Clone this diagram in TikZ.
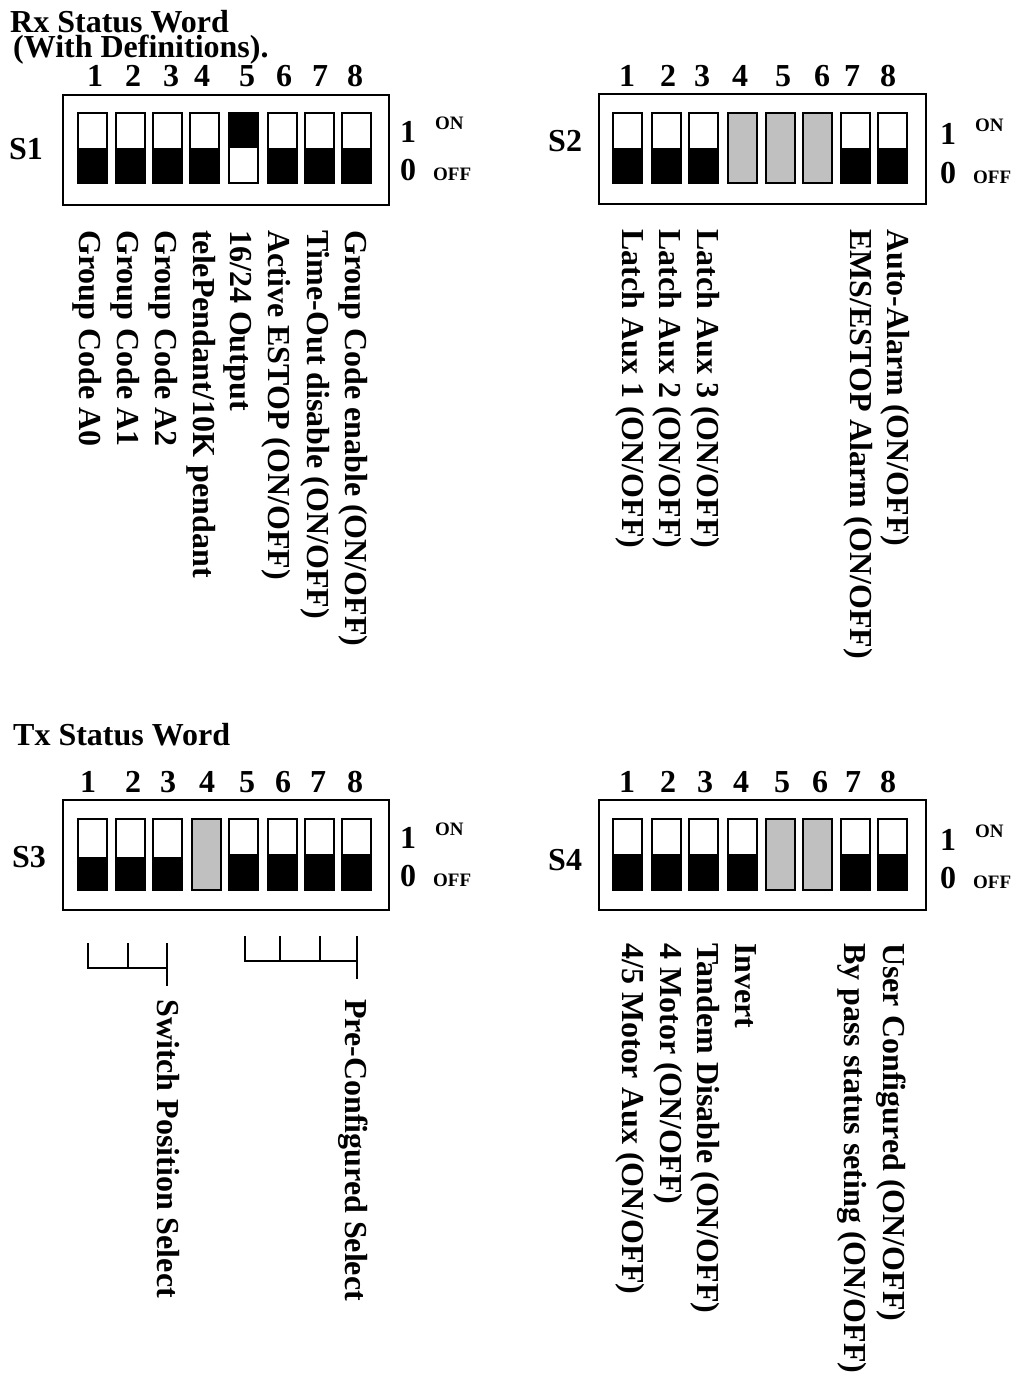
\documentclass[tikz,border=0pt]{standalone}
\usepackage{fontspec}
\setmainfont{Liberation Serif}
\definecolor{swgray}{RGB}{192,192,192}
\newcommand{\dipOff}[4]{\fill[black] (#1,#3) rectangle (#1+29,#4); \draw[swb] (#1,#2) rectangle (#1+29,#4);}
\newcommand{\dipOn}[4]{\fill[black] (#1,#2) rectangle (#1+29,#3); \draw[swb] (#1,#2) rectangle (#1+29,#4);}
\newcommand{\dipGray}[4]{\draw[swb, fill=swgray] (#1,#2) rectangle (#1+29,#4);}
\begin{document}
\begin{tikzpicture}[x=1pt,y=-1pt,
  txt/.style={font=\fontsize{32}{32}\selectfont\bfseries, inner sep=0pt},
  smalltxt/.style={font=\fontsize{19}{19}\selectfont\bfseries, inner sep=0pt},
  lbl/.style={txt, rotate=-90, anchor=base west},
  num/.style={txt, anchor=base},
  frame/.style={draw, line width=1.6pt, inner sep=0pt, anchor=north west},
  swb/.style={draw, line width=1.6pt},
  brk/.style={draw, line width=1.6pt}]
\useasboundingbox[fill=white] (0,0) rectangle (1021,1383);

% ---------- Titles ----------
\node[txt, align=left, anchor=north west] (rxtitle) at (10,10)
  {Rx Status Word\\[-7pt]\hspace*{3pt}(With Definitions).};
\node[txt, anchor=base west] (txtitle) at (13,745) {Tx Status Word};

% ---------- S1 ----------
\node[frame, minimum width=326pt, minimum height=110pt] (box1) at (62,94) {};
\node[txt, anchor=base west] (S1) at (9,160) {S1};
\foreach \x/\n in {95/1,133/2,171/3,202/4,247/5,284/6,320/7,355/8}
  \node[num] (a\n) at (\x,86.5) {\n};
\foreach \x in {78,116,153,190,268,305,342} {\dipOff{\x}{113}{148}{183}}
\dipOn{229}{113}{148}{183}
\node[txt, anchor=base west] (on1a) at (400,143) {1};
\node[smalltxt, anchor=base west] (on1b) at (435,130) {ON};
\node[txt, anchor=base west] (off1a) at (400,181) {0};
\node[smalltxt, anchor=base west] (off1b) at (433,181) {OFF};
\node[lbl] (l11) at (79,230) {Group Code A0};
\node[lbl] (l12) at (117,230) {Group Code A1};
\node[lbl] (l13) at (155,230) {Group Code A2};
\node[lbl] (l14) at (193,230) {telePendant/10K pendant};
\node[lbl] (l15) at (230,230) {16/24 Output};
\node[lbl] (l16) at (268,230) {Active ESTOP (ON/OFF)};
\node[lbl] (l17) at (307,230) {Time-Out disable (ON/OFF)};
\node[lbl] (l18) at (345,230) {Group Code enable (ON/OFF)};

% ---------- S2 ----------
\node[frame, minimum width=327pt, minimum height=110pt] (box2) at (598,93) {};
\node[txt, anchor=base west] (S2) at (548,152) {S2};
\foreach \x/\n in {627/1,668/2,702/3,740/4,783/5,822/6,852/7,888/8}
  \node[num] (b\n) at (\x,86.5) {\n};
\foreach \x in {613,652,689,841,878} {\dipOff{\x}{113}{148}{183}}
\foreach \x in {728,766,803} {\dipGray{\x}{113}{148}{183}}
\node[txt, anchor=base west] (on2a) at (940,145) {1};
\node[smalltxt, anchor=base west] (on2b) at (975,132) {ON};
\node[txt, anchor=base west] (off2a) at (940,183) {0};
\node[smalltxt, anchor=base west] (off2b) at (973,183) {OFF};
\node[lbl] (l21) at (622,229) {Latch Aux 1 (ON/OFF)};
\node[lbl] (l22) at (659,229) {Latch Aux 2 (ON/OFF)};
\node[lbl] (l23) at (697,229) {Latch Aux 3 (ON/OFF)};
\node[lbl] (l27) at (850,229) {EMS/ESTOP Alarm (ON/OFF)};
\node[lbl] (l28) at (887,229) {Auto-Alarm (ON/OFF)};

% ---------- S3 ----------
\node[frame, minimum width=326pt, minimum height=110pt] (box3) at (62,799) {};
\node[txt, anchor=base west] (S3) at (12,867) {S3};
\foreach \x/\n in {88/1,133/2,168/3,207/4,247/5,283/6,318/7,355/8}
  \node[num] (c\n) at (\x,792) {\n};
\foreach \x in {78,116,153} {\dipOff{\x}{819}{857}{890}}
\dipGray{192}{819}{857}{890}
\foreach \x in {229,268,305,342} {\dipOff{\x}{819}{854}{890}}
\node[txt, anchor=base west] (on3a) at (400,848) {1};
\node[smalltxt, anchor=base west] (on3b) at (435,835) {ON};
\node[txt, anchor=base west] (off3a) at (400,886) {0};
\node[smalltxt, anchor=base west] (off3b) at (433,886) {OFF};
% brackets
\coordinate (p1) at (88,943);
\coordinate (p2) at (128,943);
\coordinate (p3) at (167,943);
\coordinate (p1b) at (88,968);
\coordinate (p2b) at (128,968);
\coordinate (p3b) at (167,968);
\coordinate (p3c) at (167,986);
\draw[brk] (p1) -- (p1b) -- (p3b);
\draw[brk] (p2) -- (p2b);
\draw[brk] (p3) -- (p3c);
\coordinate (q1) at (245,936);
\coordinate (q2) at (280,936);
\coordinate (q3) at (320,936);
\coordinate (q4) at (357,936);
\coordinate (q1b) at (245,961);
\coordinate (q2b) at (280,961);
\coordinate (q3b) at (320,961);
\coordinate (q4b) at (357,961);
\coordinate (q4c) at (357,979);
\draw[brk] (q1) -- (q1b) -- (q4b);
\draw[brk] (q2) -- (q2b);
\draw[brk] (q3) -- (q3b);
\draw[brk] (q4) -- (q4c);
\node[lbl] (l31) at (157,999) {Switch Position Select};
\node[lbl] (l32) at (345,999) {Pre-Configured Select};

% ---------- S4 ----------
\node[frame, minimum width=327pt, minimum height=110pt] (box4) at (598,799) {};
\node[txt, anchor=base west] (S4) at (548,870) {S4};
\foreach \x/\n in {627/1,668/2,705/3,741/4,782/5,820/6,853/7,888/8}
  \node[num] (d\n) at (\x,792) {\n};
\foreach \x in {613,652,689,728,841,878} {\dipOff{\x}{819}{854}{890}}
\foreach \x in {766,803} {\dipGray{\x}{819}{854}{890}}
\node[txt, anchor=base west] (on4a) at (940,850) {1};
\node[smalltxt, anchor=base west] (on4b) at (975,837) {ON};
\node[txt, anchor=base west] (off4a) at (940,888) {0};
\node[smalltxt, anchor=base west] (off4b) at (973,888) {OFF};
\node[lbl] (l41) at (622,943) {4/5 Motor Aux (ON/OFF)};
\node[lbl] (l42) at (660,943) {4 Motor (ON/OFF)};
\node[lbl] (l43) at (697,943) {Tandem Disable (ON/OFF)};
\node[lbl] (l44) at (735,943) {Invert};
\node[lbl] (l47) at (844,943) {By pass status seting (ON/OFF)};
\node[lbl] (l48) at (883,943) {User Configured (ON/OFF)};
\end{tikzpicture}
\end{document}
